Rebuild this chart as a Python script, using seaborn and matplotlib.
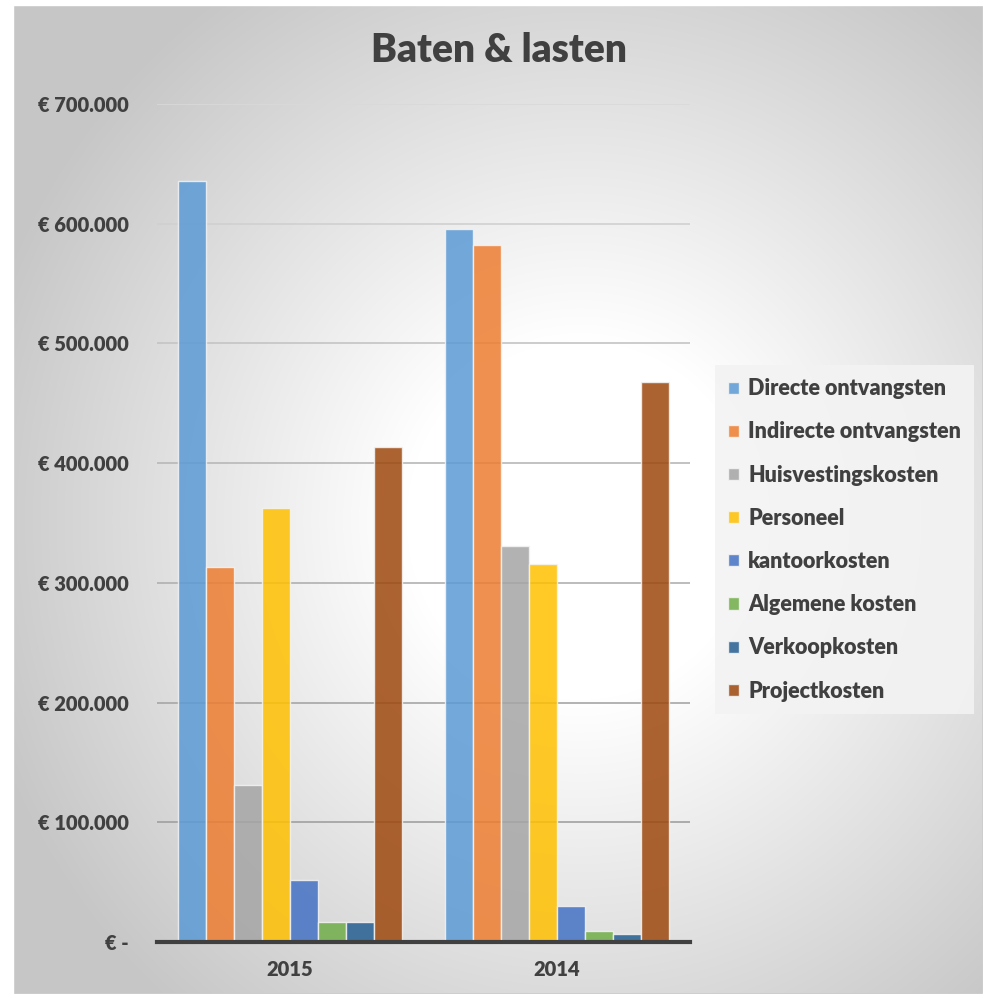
import numpy as np
import pandas as pd
import matplotlib
matplotlib.use('Agg')
import matplotlib.pyplot as plt
import seaborn as sns
from matplotlib.ticker import FuncFormatter

# data
years = ['2015', '2014']
posts = ['Directe ontvangsten', 'Indirecte ontvangsten', 'Huisvestingskosten',
         'Personeel', 'kantoorkosten', 'Algemene kosten', 'Verkoopkosten',
         'Projectkosten']
values_2015 = [636000, 313000, 131000, 362500, 51500, 16700, 16500, 413500]
values_2014 = [595500, 582000, 331000, 316000, 30000, 9200, 6700, 468000]
colors = ['#5B9BD5', '#ED7D31', '#A5A5A5', '#FFC000', '#4472C4', '#70AD47',
          '#255E91', '#9E480E']

df = pd.DataFrame({
    'jaar': [years[0]] * len(posts) + [years[1]] * len(posts),
    'post': posts + posts,
    'bedrag': values_2015 + values_2014,
})

sns.set_theme(style='white')
plt.rcParams['font.family'] = ['Lato', 'DejaVu Sans']
weight = 'heavy'
plt.rcParams['font.weight'] = weight
text_col = '#404040'

fig = plt.figure(figsize=(9.86, 9.98), dpi=100)

# radial gradient background of the chart area
bg = fig.add_axes([0, 0, 1, 1], zorder=0)
W, H = 986, 998
yy, xx = np.mgrid[0:H, 0:W]
r = np.sqrt(((xx - 580) / 620.0) ** 2 + ((yy - 520) / 640.0) ** 2)
shade = 1.0 - 0.22 * np.clip((r - 0.28) / 0.72, 0, 1)
img = np.dstack([shade, shade, shade])
bg.imshow(img, extent=[0, W, H, 0], aspect='auto', interpolation='bilinear')
bg.add_patch(plt.Rectangle((13, 5), 970, 989, fill=False, edgecolor='#bfbfbf', lw=1.2))
bg.fill_between([0, W], 0, 5, color='white')
bg.fill_between([0, W], 994, H, color='white')
bg.fill_betweenx([0, H], 0, 13, color='white')
bg.fill_betweenx([0, H], 983, W, color='white')
bg.set_xlim(0, W)
bg.set_ylim(H, 0)
bg.axis('off')

ax = fig.add_axes([0.159, 0.0561, 0.541, 0.8397], zorder=1)
ax.patch.set_alpha(0)

sns.barplot(data=df, x='jaar', y='bedrag', hue='post', order=years,
            hue_order=posts, palette=colors, saturation=1, width=0.84,
            alpha=0.85, edgecolor='#f4f4f4', linewidth=1, ax=ax, zorder=3)

ax.set_xlim(-0.5, 1.5)
ax.set_ylim(0, 700000)
ax.set_yticks(np.arange(0, 700001, 100000))
ax.yaxis.set_major_formatter(FuncFormatter(
    lambda v, p: '€ -' if v == 0 else '€ {:,.0f}'.format(v).replace(',', '.')))
ax.grid(axis='y', lw=1.2)
ax.set_axisbelow(True)
grid_cols = ['#ffffff', '#a0a0a0', '#a6a6a6', '#b0b0b0', '#b8b8b8', '#c4c4c4', '#d0d0d0', '#d9d9d9']
for line, c in zip(ax.get_ygridlines(), grid_cols):
    line.set_color(c)

for s in ['left', 'right', 'top']:
    ax.spines[s].set_visible(False)
ax.spines['bottom'].set_color(text_col)
ax.spines['bottom'].set_linewidth(3)
ax.spines['bottom'].set_zorder(5)
ax.tick_params(axis='y', length=0, pad=20, labelsize=14.5, labelcolor=text_col)
ax.tick_params(axis='x', length=0, pad=13, labelsize=14.5, labelcolor=text_col)
for lab in ax.get_xticklabels() + ax.get_yticklabels():
    lab.set_fontweight(weight)
ax.set_xlabel('')
ax.set_ylabel('')

fig.text(0.506, 0.949, 'Baten & lasten', ha='center', va='center',
         fontsize=28, fontweight=weight, color=text_col)

handles, labels = ax.get_legend_handles_labels()
leg = ax.legend(handles, labels, loc='center left', bbox_to_anchor=(0.725, 0.459),
                bbox_transform=fig.transFigure, frameon=True, fancybox=False,
                fontsize=15.5, handlelength=0.5, handleheight=0.5,
                handletextpad=0.45, labelspacing=1.03, borderpad=0.6,
                borderaxespad=0)
leg.get_frame().set_facecolor('#f3f3f3')
leg.get_frame().set_alpha(0.9)
leg.get_frame().set_edgecolor('none')
for t in leg.get_texts():
    t.set_color(text_col)
    t.set_fontweight(weight)

fig.savefig('out.png', dpi=100)
